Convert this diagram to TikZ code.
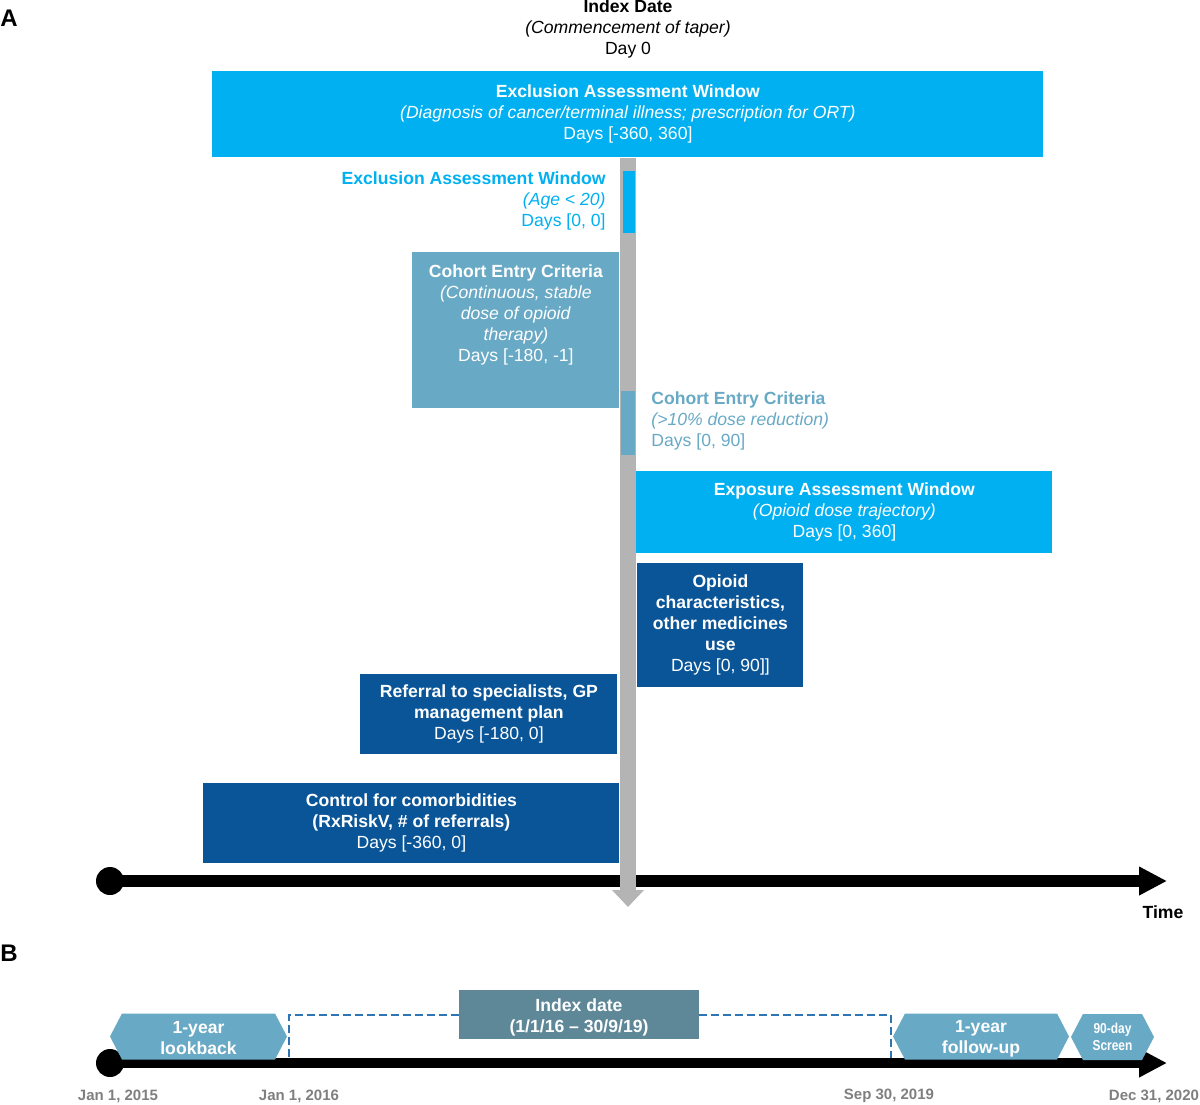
\documentclass[tikz,border=0pt]{standalone}
\usepackage{fontspec}
\setmainfont{Liberation Sans}
\usetikzlibrary{shapes,arrows,positioning,calc,arrows.meta}
\definecolor{winblue}{HTML}{00B0F0}
\definecolor{cohortblue}{HTML}{68A9C5}
\definecolor{darkblue}{HTML}{0A5598}
\definecolor{indexgrey}{HTML}{5E8798}
\definecolor{tapergrey}{HTML}{B4B4B4}
\definecolor{dashblue}{HTML}{2E75B6}
\definecolor{dategrey}{HTML}{7F7F7F}

\begin{document}
\begin{tikzpicture}[x=0.5pt, y=-0.5pt,
    every node/.style={font=\fontsize{8.8}{10.5}\selectfont, inner sep=0pt},
    win/.style={anchor=north west, align=center, text=white},
    bar/.style={anchor=north west},
    timeline/.style={line width=6pt, -{Triangle[width=13.5pt,length=14pt]}},
    taper/.style={tapergrey, line width=8pt, -{Triangle[width=15.5pt,length=8.5pt]}},
    dot/.style={circle, fill=black, minimum size=14pt},
    phase/.style={signal, signal to=west and east, signal pointer angle=125, fill=cohortblue,
        text=white, font=\fontsize{8.8}{10.5}\selectfont\bfseries, align=center,
        minimum height=23pt},
    datelink/.style={dashblue, line width=1pt, dash pattern=on 4pt off 2pt},
    date/.style={text=dategrey, font=\fontsize{7.5}{9}\selectfont\bfseries}]
    \useasboundingbox (0,0) rectangle (1200,1104);

    % Panel A
    \node[font=\fontsize{12}{14}\selectfont\bfseries] (panelA) at (9,18) {A};
    \node[align=center] (idxtitle) at (628,29) {\textbf{Index Date}\\\textit{(Commencement of taper)}\\Day 0};

    % Windows
    \node[win, fill=winblue, minimum width=415.5pt, minimum height=43pt] (exclall) at (212,71)
        {\textbf{Exclusion Assessment Window}\\\textit{(Diagnosis of cancer/terminal illness; prescription for ORT)}\\Days [-360, 360]};
    \node[win, fill=cohortblue, minimum width=103.5pt, minimum height=78pt, text depth=17.5pt] (cohortpre) at (412,252)
        {\textbf{Cohort Entry Criteria}\\\textit{(Continuous, stable}\\\textit{dose of opioid}\\\textit{therapy)}\\Days [-180, -1]};
    \node[win, fill=winblue, minimum width=208pt, minimum height=41pt] (exposure) at (636,471)
        {\textbf{Exposure Assessment Window}\\\textit{(Opioid dose trajectory)}\\Days [0, 360]};
    \node[win, fill=darkblue, minimum width=83pt, minimum height=62pt] (opioid) at (637,563)
        {\textbf{Opioid}\\\textbf{characteristics,}\\\textbf{other medicines}\\\textbf{use}\\Days [0, 90]]};
    \node[win, fill=darkblue, minimum width=128.5pt, minimum height=40pt] (referral) at (360,674)
        {\textbf{Referral to specialists, GP}\\\textbf{management plan}\\Days [-180, 0]};
    \node[win, fill=darkblue, minimum width=208pt, minimum height=40pt] (comorb) at (203,783)
        {\textbf{Control for comorbidities}\\\textbf{(RxRiskV, \# of referrals)}\\Days [-360, 0]};

    % Time axis
    \node[dot] (startA) at (110,881) {};
    \coordinate (endA) at (1167,881);
    \draw[timeline] (startA.center) -- (endA);
    \node[font=\fontsize{8.8}{10.5}\selectfont\bfseries] (timelbl) at (1163,912) {Time};

    % Day 0
    \coordinate (taperend) at (628,907);
    \draw[taper] (exclall.south -| taperend) -- (taperend);
    \node[bar, fill=winblue, minimum width=6pt, minimum height=31pt] (agebar) at (623,171) {};
    \node[anchor=east, align=right, text=winblue] (agelbl) at (606,201)
        {\textbf{Exclusion Assessment Window}\\\textit{(Age < 20)}\\Days [0, 0]};
    \node[bar, fill=cohortblue, minimum width=7pt, minimum height=32pt] (redbar) at (621,391) {};
    \node[anchor=west, align=left, text=cohortblue] (redlbl) at (651,421)
        {\textbf{Cohort Entry Criteria}\\\textit{(>10\% dose reduction)}\\Days [0, 90]};

    % Panel B
    \node[font=\fontsize{12}{14}\selectfont\bfseries] (panelB) at (9,953) {B};
    \node[dot] (startB) at (110,1063) {};
    \coordinate (endB) at (1167,1063);
    \draw[timeline, line width=5pt] (startB.center) -- (endB);

    \node[phase, minimum width=88.5pt, text height=18.5pt] (lookback) at (198.5,1036.5) {1-year\\lookback};
    \node[phase, minimum width=88pt, text height=18.9pt] (followup) at (981,1036.5) {1-year\\follow-up};
    \node[phase, minimum width=41.5pt, font=\fontsize{7.2}{8.5}\selectfont\bfseries\addfontfeatures{FakeStretch=0.83}] (screen) at (1112.5,1037) {90-day\\Screen};
    \node[fill=indexgrey, text=white, align=center, font=\fontsize{8.8}{10.5}\selectfont\bfseries,
        minimum width=120pt, minimum height=24.5pt, text height=19.9pt] (idxdate) at (579,1014.5) {Index date\\(1/1/16 -- 30/9/19)};

    \coordinate (jan16) at (289,1058);
    \coordinate (sep19) at (891,1058);
    \draw[datelink] (idxdate.west) -| (jan16);
    \draw[datelink] (idxdate.east) -| (sep19);

    \node[date] (d15) at (118,1096) {Jan 1, 2015};
    \node[date] (d16) at (299,1096) {Jan 1, 2016};
    \node[date] (d19) at (889,1096) {Sep 30, 2019};
    \node[date] (d20) at (1154,1096) {Dec 31, 2020};
\end{tikzpicture}
\end{document}
